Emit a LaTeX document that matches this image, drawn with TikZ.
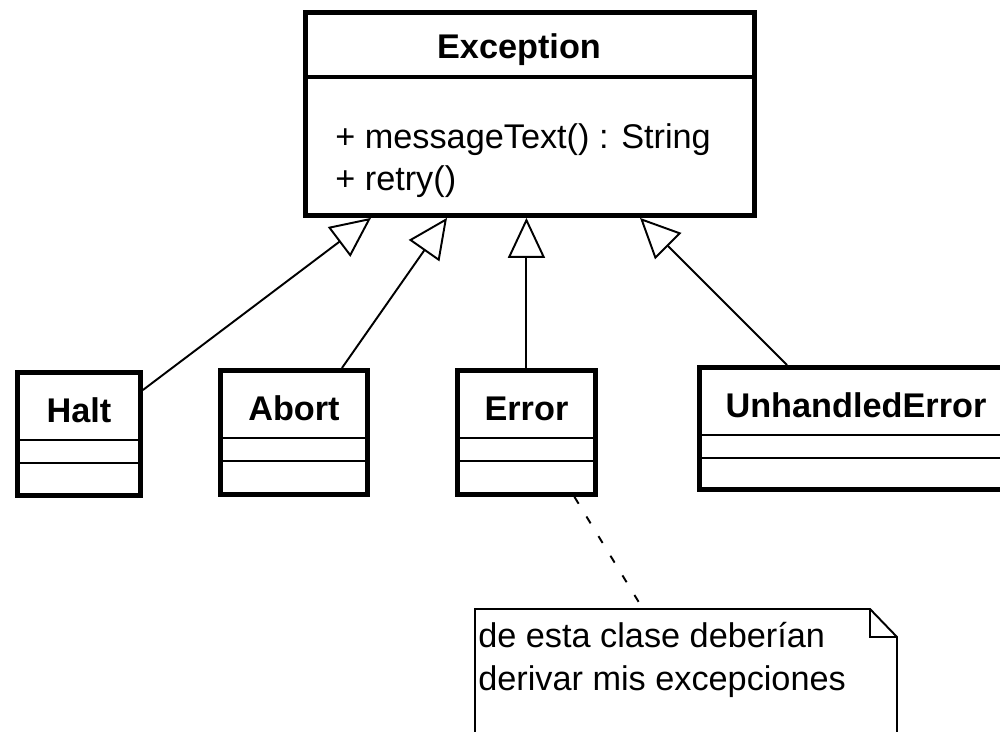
\documentclass[tikz,border=0pt]{standalone}
\usepackage{fontspec}
\setmainfont{Liberation Sans}
\usetikzlibrary{arrows.meta,calc,positioning}
\tikzset{
  umlbox/.style={draw, line width=2.8pt, anchor=north west, inner sep=0pt},
  umlsep/.style={line width=1.6pt},
  umlname/.style={font=\fontsize{19.5}{24}\selectfont\bfseries, inner sep=0pt, anchor=base},
  umlattr/.style={font=\fontsize{19.5}{24}\selectfont, inner sep=0pt, anchor=base west},
  gen/.style={-{Triangle[open, length=0.8cm, width=0.74cm, line width=1.1pt]}, line width=1.1pt},
  notelink/.style={line width=1.1pt, dash pattern=on 0.16cm off 0.3cm},
  noteline/.style={line width=1.1pt},
  notetext/.style={font=\fontsize{19.5}{24.5}\selectfont, align=left, anchor=north west, inner sep=0pt}
}

\begin{document}
\begin{tikzpicture}[x=0.02cm, y=-0.02cm]
  \useasboundingbox (0,0) rectangle (1000,731);

  % superclass
  \node[umlbox, minimum width=8.98cm, minimum height=4.06cm] (exc) at (303,10) {};
  \draw[line width=1.9pt] ($(exc.north west)+(0,67)$) -- ($(exc.north east)+(0,67)$);
  \node[umlname] (excname) at (519,58) {Exception};
  \node[umlattr] (attrone) at (335,148) {+ messageText() : String};
  \node[umlattr] (attrtwo) at (335,190) {+ retry()};

  % subclasses
  \node[umlbox, minimum width=2.46cm, minimum height=2.46cm] (halt) at (15,370) {};
  \node[umlbox, minimum width=2.94cm, minimum height=2.48cm] (abort) at (218,368) {};
  \node[umlbox, minimum width=2.76cm, minimum height=2.48cm] (err) at (455,368) {};
  \node[umlbox, minimum width=6.26cm, minimum height=2.44cm] (unh) at (697,365) {};
  \node[umlname] (haltname) at ($(halt.north)+(0,52)$) {Halt};
  \node[umlname] (abortname) at ($(abort.north)+(0,52)$) {Abort};
  \node[umlname] (errname) at ($(err.north)+(0,52)$) {Error};
  \node[umlname] (unhname) at ($(unh.north)+(0,52)$) {UnhandledError};
  \foreach \c in {halt,abort,err,unh} {
    \draw[umlsep] ($(\c.north west)+(0,70)$) -- ($(\c.north east)+(0,70)$);
    \draw[umlsep] ($(\c.north west)+(0,93)$) -- ($(\c.north east)+(0,93)$);
  }

  % generalizations
  \draw[gen] ($(halt.north east)+(0,20)$) -- ($(exc.south west)+(68,0)$);
  \draw[gen] ($(abort.north)+(48,0)$) -- ($(exc.south west)+(144,0)$);
  \draw[gen] (err.north) -- (err.north |- exc.south);
  \draw[gen] ($(unh.north west)+(90,0)$) -- ($(exc.south west)+(337,0)$);

  % note
  \node[notetext] (note) at (478,622) {de esta clase deberían\\derivar mis excepciones};
  \draw[noteline] (475,760) -- (475,609) -- (870,609) -- (897,637) -- (897,760);
  \draw[noteline] (870,609) -- (870,637) -- (897,637);
  \coordinate (notetop) at (643,609);
  \draw[notelink] ($(err.south)+(48,0)$) -- (notetop);
\end{tikzpicture}
\end{document}
